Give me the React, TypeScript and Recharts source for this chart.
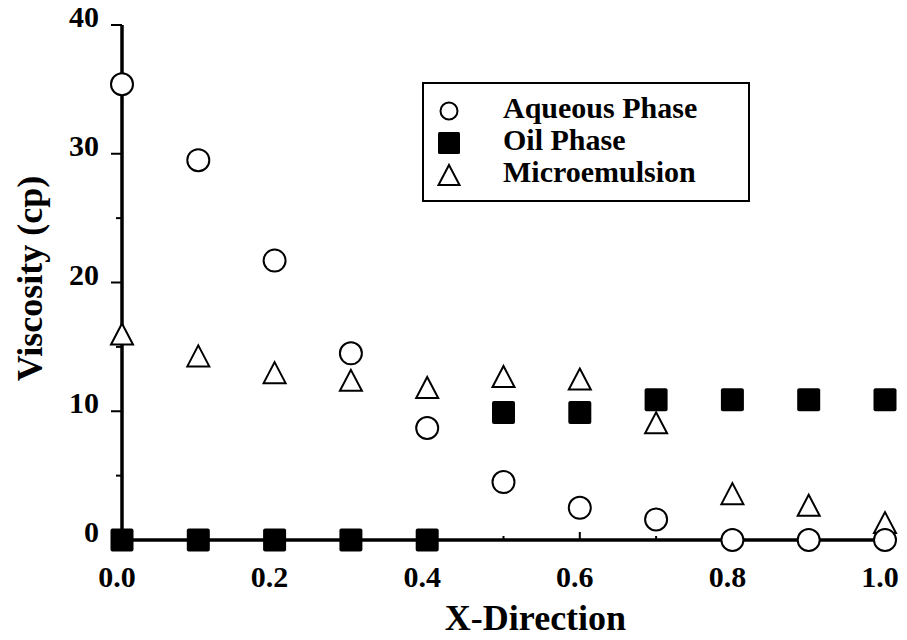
import React from 'react';
import { ScatterChart, Scatter, XAxis, YAxis, Legend } from 'recharts';

// x positions along the core (dimensionless)
const xPositions = [0, 0.1, 0.2, 0.3, 0.4, 0.5, 0.6, 0.7, 0.8, 0.9, 1.0];
// viscosity (cp) per phase
const aqueousPhase = [35.4, 29.5, 21.7, 14.5, 8.7, 4.5, 2.5, 1.6, 0, 0, 0];
const oilPhase = [0, 0, 0, 0, 0, 9.9, 9.9, 10.9, 10.9, 10.9, 10.9];
const microemulsion = [16.0, 14.3, 13.0, 12.4, 11.85, 12.7, 12.5, 9.1, 3.6, 2.7, 1.35];

const xTicks = [0, 0.1, 0.2, 0.3, 0.4, 0.5, 0.6, 0.7, 0.8, 0.9, 1.0];
const yTicks = [0, 5, 10, 15, 20, 25, 30, 35, 40];
const seriesNames = ['Aqueous Phase', 'Oil Phase', 'Microemulsion'];

const FONT = '"Liberation Serif", "Times New Roman", serif';

const toPoints = (vals: number[]) => xPositions.map((x, i) => ({ x, y: vals[i] }));

const CircleMark = (p: any) => (
  <circle cx={p.cx} cy={p.cy} r={11} fill="#fff" stroke="#000" strokeWidth={2} />
);
const SquareMark = (p: any) => (
  <rect x={p.cx - 11.5} y={p.cy - 11.5} width={23} height={23} rx={2} fill="#000" />
);
const TriangleMark = (p: any) => {
  const w = 22, h = 21;
  return (
    <path
      d={`M${p.cx},${p.cy - h / 2} L${p.cx + w / 2},${p.cy + h / 2} L${p.cx - w / 2},${p.cy + h / 2} Z`}
      fill="#fff" stroke="#000" strokeWidth={2}
    />
  );
};

const isMajorX = (v: number) => Math.round(v * 10) % 2 === 0;

const BottomTick = ({ x, y, payload }: any) => (
  <g>
    <line x1={x} x2={x} y1={y} y2={y - (isMajorX(payload.value) ? 8 : 4)} stroke="#000" strokeWidth={2} />
    {isMajorX(payload.value) && (
      <text x={x - 5} y={y + 47} textAnchor="middle" fontFamily={FONT} fontWeight="bold" fontSize={30} fill="#000">
        {payload.value.toFixed(1)}
      </text>
    )}
  </g>
);

const TopTick = ({ x, y, payload }: any) => (
  <line x1={x} x2={x} y1={y} y2={y + (isMajorX(payload.value) ? 8 : 4)} stroke="#000" strokeWidth={2} />
);

const LeftTick = ({ x, y, payload }: any) => {
  const major = payload.value % 10 === 0;
  return (
    <g>
      <line x1={x} x2={x - (major ? 11 : 6)} y1={y} y2={y} stroke="#000" strokeWidth={2} />
      {major && (
        <text x={x - 23} y={y + 2} textAnchor="end" fontFamily={FONT} fontWeight="bold" fontSize={30} fill="#000">
          {payload.value}
        </text>
      )}
    </g>
  );
};

const legendMarks = [
  (cx: number, cy: number) => <circle cx={cx} cy={cy} r={8.5} fill="#fff" stroke="#000" strokeWidth={2} />,
  (cx: number, cy: number) => <rect x={cx - 11} y={cy - 11} width={22} height={22} rx={1.5} fill="#000" />,
  (cx: number, cy: number) => (
    <path d={`M${cx},${cy - 10} L${cx + 10.5},${cy + 10} L${cx - 10.5},${cy + 10} Z`} fill="#fff" stroke="#000" strokeWidth={2} />
  ),
];

const LegendBox = () => (
  <div style={{ width: 328, height: 120, border: '2px solid #000', boxSizing: 'border-box', background: '#fff' }}>
    <svg width={324} height={116} style={{ display: 'block' }}>
      {seriesNames.map((name, i) => {
        const cy = 24 + i * 32;
        return (
          <g key={name}>
            {legendMarks[i](25, cy + 3)}
            <text x={79} y={cy + 10} fontFamily={FONT} fontWeight="bold" fontSize={30} fill="#000">{name}</text>
          </g>
        );
      })}
    </svg>
  </div>
);

export default function App() {
  return (
    <div style={{ position: 'absolute', left: 0, top: 0, width: 907, height: 640, background: '#fff' }}>
      <ScatterChart width={907} height={640} margin={{ top: 25, right: 22, left: 0, bottom: 0 }}>
        <XAxis
          dataKey="x" type="number" domain={[0, 1]} ticks={xTicks} height={100}
          tickSize={0} tickMargin={0} tickLine={false} tick={BottomTick} interval={0}
          axisLine={{ stroke: '#000', strokeWidth: 3.5 }}
          label={(props: any) => {
            const vb = props.viewBox;
            return (
              <text x={vb.x + vb.width / 2 + 32} y={vb.y + 90} textAnchor="middle" fontFamily={FONT} fontWeight="bold" fontSize={36} fill="#000">
                X-Direction
              </text>
            );
          }}
        />
        <XAxis
          xAxisId="top" orientation="top" type="number" domain={[0, 1]} ticks={xTicks} height={0}
          tickSize={0} tickMargin={0} tickLine={false} tick={TopTick} interval={0}
          axisLine={{ stroke: '#000', strokeWidth: 3 }}
        />
        <YAxis
          dataKey="y" type="number" domain={[0, 40]} ticks={yTicks} width={122}
          tickSize={0} tickMargin={0} tickLine={false} tick={LeftTick} interval={0}
          axisLine={{ stroke: '#000', strokeWidth: 3.5 }}
          label={(props: any) => {
            const vb = props.viewBox;
            const cx = 42, cy = vb.y + vb.height / 2 - 4;
            return (
              <text x={cx} y={cy} transform={`rotate(-90 ${cx} ${cy})`} textAnchor="middle" fontFamily={FONT} fontWeight="bold" fontSize={36} fill="#000">
                Viscosity (cp)
              </text>
            );
          }}
        />
        <YAxis
          yAxisId="right" orientation="right" type="number" domain={[0, 40]} width={0}
          tick={false} tickLine={false} axisLine={{ stroke: '#000', strokeWidth: 1.5 }}
        />
        <Legend
          layout="horizontal" verticalAlign="middle" align="center"
          wrapperStyle={{ left: 422, top: 82, width: 328, height: 120 }}
          content={LegendBox}
        />
        <Scatter name={seriesNames[2]} data={toPoints(microemulsion)} shape={TriangleMark} isAnimationActive={false} zIndex={3000} />
        <Scatter name={seriesNames[1]} data={toPoints(oilPhase)} shape={SquareMark} isAnimationActive={false} zIndex={3000} />
        <Scatter name={seriesNames[0]} data={toPoints(aqueousPhase)} shape={CircleMark} isAnimationActive={false} zIndex={3000} />
      </ScatterChart>
    </div>
  );
}
